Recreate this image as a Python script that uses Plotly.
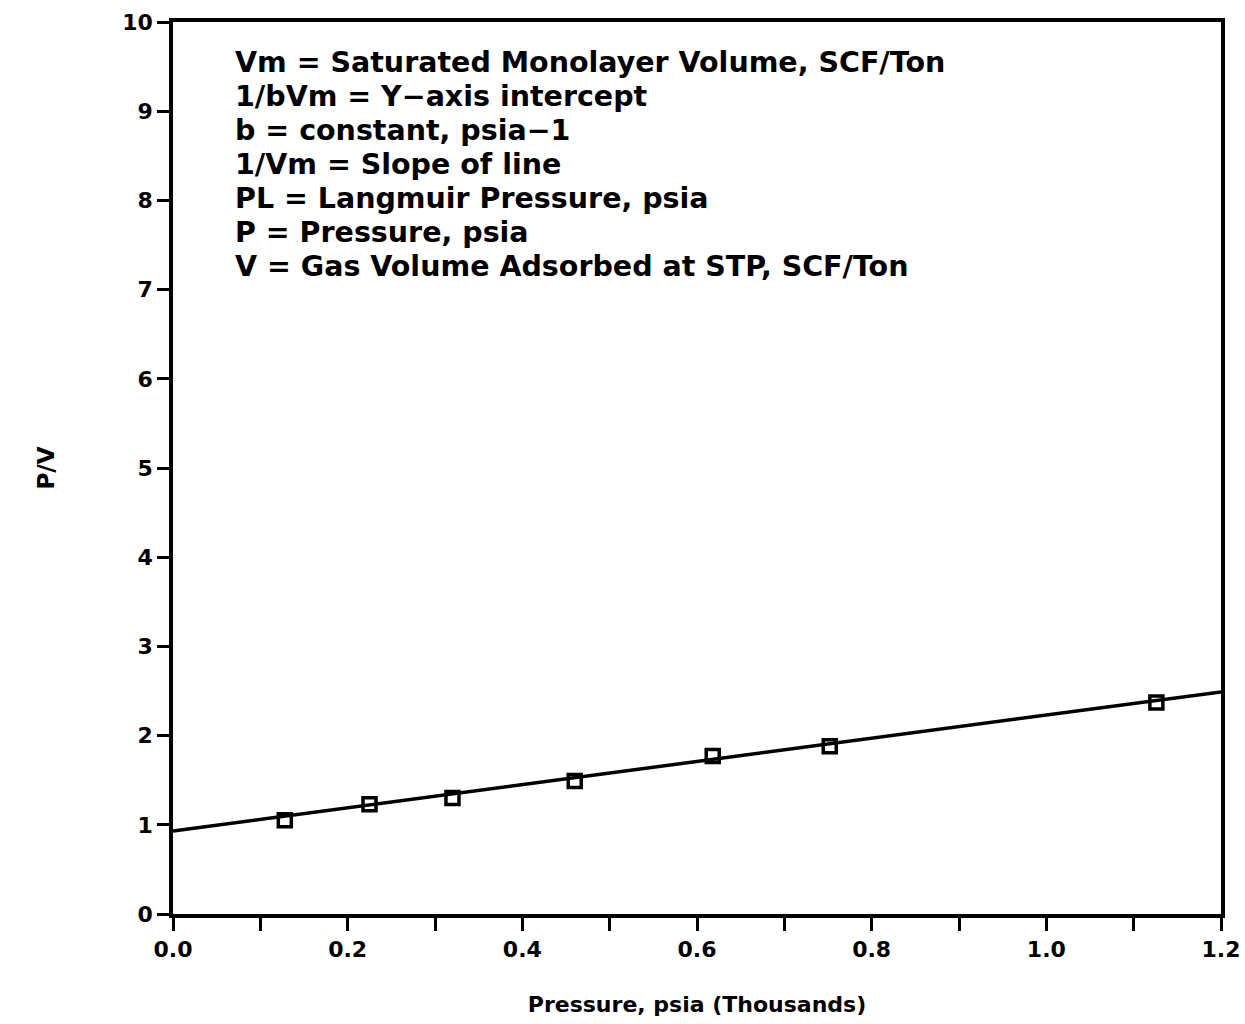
import plotly.graph_objects as go

# Data
pressure_k = [0.128, 0.225, 0.320, 0.460, 0.618, 0.752, 1.126]
p_over_v = [1.05, 1.23, 1.30, 1.49, 1.77, 1.88, 2.37]
fit_x = [0.0, 1.2]
fit_y = [0.93, 2.49]

x_tickvals = [0.0, 0.1, 0.2, 0.3, 0.4, 0.5, 0.6, 0.7, 0.8, 0.9, 1.0, 1.1, 1.2]
x_ticktext = ["0.0", "", "0.2", "", "0.4", "", "0.6", "", "0.8", "", "1.0", "", "1.2"]
y_tickvals = [0, 1, 2, 3, 4, 5, 6, 7, 8, 9, 10]

legend_lines = [
    "Vm = Saturated Monolayer Volume, SCF/Ton",
    "1/bVm = Y\u2212axis intercept",
    "b = constant, psia\u22121",
    "1/Vm = Slope of line",
    "PL = Langmuir Pressure, psia",
    "P = Pressure, psia",
    "V = Gas Volume Adsorbed at STP, SCF/Ton",
]

FONT = "DejaVu Sans"

fig = go.Figure()
fig.add_trace(go.Scatter(x=fit_x, y=fit_y, mode="lines",
                         line=dict(color="black", width=3.5), showlegend=False))
fig.add_trace(go.Scatter(x=pressure_k, y=p_over_v, mode="markers",
                         marker=dict(symbol="square-open", size=13, color="black",
                                     line=dict(width=3.5, color="black")),
                         showlegend=False))

for i, t in enumerate(legend_lines):
    fig.add_annotation(xref="paper", yref="paper", x=0.057, y=0.955 - i * 0.0382,
                       text=t, showarrow=False, xanchor="left", yanchor="middle",
                       font=dict(family=FONT, size=28.5, color="black", weight="bold"))

fig.update_layout(
    width=1245, height=1024,
    margin=dict(l=173, r=24, t=22, b=110),
    paper_bgcolor="white", plot_bgcolor="white",
    font=dict(family=FONT, color="black"),
)
fig.update_xaxes(range=[0, 1.2], tickvals=x_tickvals, ticktext=x_ticktext,
                 ticks="outside", ticklen=13, tickwidth=3, tickcolor="black",
                 showline=True, linewidth=3.5, linecolor="black", mirror=True,
                 showgrid=False, zeroline=False, automargin=False,
                 tickfont=dict(size=22, family=FONT, weight="bold"),
                 title=dict(text="<b>Pressure, psia (Thousands)</b>",
                            font=dict(size=22, family=FONT), standoff=36))
fig.update_yaxes(range=[0, 10], tickvals=y_tickvals,
                 ticks="outside", ticklen=12, tickwidth=3, tickcolor="black",
                 showline=True, linewidth=3.5, linecolor="black", mirror=True,
                 showgrid=False, zeroline=False, automargin=False,
                 tickfont=dict(size=22, family=FONT, weight="bold"),
                 title=dict(text="<b>P/V</b>", font=dict(size=23, family=FONT),
                            standoff=62))

fig.write_html("out.html")
